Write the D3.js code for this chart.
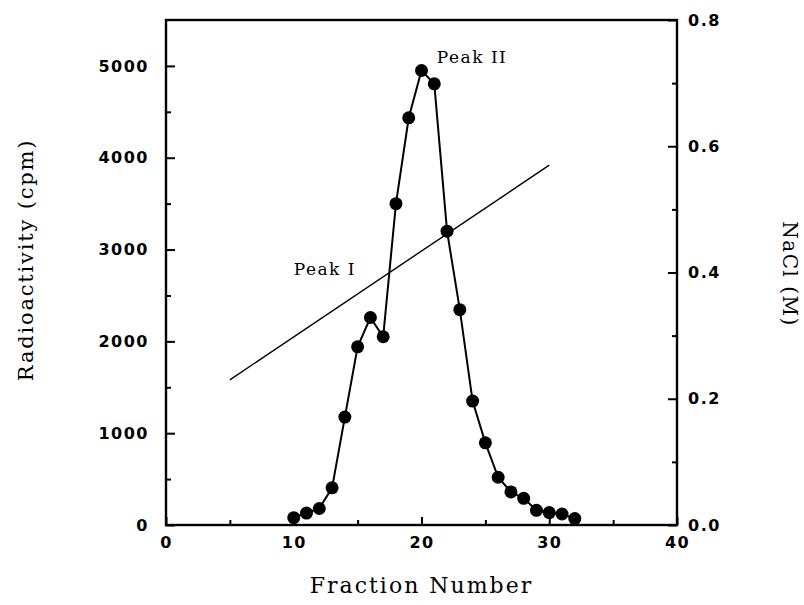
<!DOCTYPE html>
<html>
<head>
<meta charset="utf-8">
<script src="https://cdn.jsdelivr.net/npm/d3@7"></script>
<style>
body{margin:0;background:#fff;}
.tick text{font-family:"DejaVu Sans",sans-serif;font-size:16px;font-weight:bold;letter-spacing:1.5px;fill:#000;}
.axis path,.axis line{stroke:#000;}
.lbl{font-family:"DejaVu Serif",serif;fill:#000;}
</style>
</head>
<body>
<div id="chart"></div>
<script>
// fraction number vs radioactivity (cpm)
var fractions=[10,11,12,13,14,15,16,17,18,19,20,21,22,23,24,25,26,27,28,29,30,31,32];
var cpm=[80,130,180,405,1175,1940,2260,2050,3500,4435,4950,4805,3200,2345,1350,895,520,360,290,160,135,120,70];
// NaCl gradient (M)
var naclX=[5,30];
var naclY=[0.23,0.57];
var xTicks=[0,10,20,30,40];
var yTicks=[0,1000,2000,3000,4000,5000];
var y2Ticks=[0,0.2,0.4,0.6,0.8];

var margin={left:166,right:127,top:20,bottom:80};
var width=804-margin.left-margin.right;
var height=605-margin.top-margin.bottom;

var svg=d3.select('#chart')
    .append('svg')
    .attr('width',804)
    .attr('height',605)
    .append('g')
    .attr('transform','translate('+margin.left+','+margin.top+')');

var x=d3.scaleLinear().domain([0,40]).range([0,width]);
var y=d3.scaleLinear().domain([0,5500]).range([height,0]);
var y2=d3.scaleLinear().domain([0,0.8]).range([height,0]);

// minor ticks
svg.append('g').attr('class','axis')
    .call(d3.axisLeft(y).tickValues([500,1500,2500,3500,4500]).tickSize(-5).tickFormat(''));
svg.append('g').attr('class','axis')
    .attr('transform','translate('+width+',0)')
    .call(d3.axisRight(y2).tickValues([0.1,0.3,0.5,0.7]).tickSize(-5).tickFormat(''));
svg.append('g').attr('class','axis')
    .attr('transform','translate(0,'+height+')')
    .call(d3.axisBottom(x).tickValues([5,15,25,35]).tickSize(-5).tickFormat(''));

// major axes
svg.append('g').attr('class','axis')
    .call(d3.axisLeft(y).tickValues(yTicks).tickSize(-9).tickPadding(17).tickFormat(d3.format('d')));
svg.append('g').attr('class','axis')
    .attr('transform','translate('+width+',0)')
    .call(d3.axisRight(y2).tickValues(y2Ticks).tickSize(-9).tickPadding(11).tickFormat(d3.format('.1f')));
svg.append('g').attr('class','axis')
    .attr('transform','translate(0,'+height+')')
    .call(d3.axisBottom(x).tickValues(xTicks).tickSize(-8).tickPadding(12));
svg.selectAll('.axis .tick line').attr('stroke-width',2);
svg.selectAll('.axis .domain').remove();

// frame
svg.append('rect')
    .attr('x',0).attr('y',0)
    .attr('width',width).attr('height',height)
    .attr('fill','none').attr('stroke','#000').attr('stroke-width',2.4);

// NaCl line
var naclData=naclX.map(function(d,i){return {x:d,y:naclY[i]};});
svg.append('path')
    .datum(naclData)
    .attr('fill','none').attr('stroke','#000').attr('stroke-width',1.4)
    .attr('d',d3.line().x(function(d){return x(d.x);}).y(function(d){return y2(d.y);}));

// radioactivity
var data=fractions.map(function(d,i){return {f:d,v:cpm[i]};});
svg.append('path')
    .datum(data)
    .attr('fill','none').attr('stroke','#000').attr('stroke-width',2)
    .attr('d',d3.line().x(function(d){return x(d.f);}).y(function(d){return y(d.v);}));
svg.selectAll('.dot')
    .data(data)
    .enter()
    .append('circle')
    .attr('class','dot')
    .attr('cx',function(d){return x(d.f);})
    .attr('cy',function(d){return y(d.v);})
    .attr('r',6.5)
    .attr('fill','#000');

// peak labels
svg.append('text').attr('class','lbl')
    .attr('x',x(10)).attr('y',y(2720)).attr('font-size',17).attr('letter-spacing',1.5)
    .text('Peak I');
svg.append('text').attr('class','lbl')
    .attr('x',x(21.2)).attr('y',y(5030)).attr('font-size',17).attr('letter-spacing',1.5)
    .text('Peak II');

// axis titles
svg.append('text').attr('class','lbl')
    .attr('text-anchor','middle')
    .attr('font-size',21)
    .attr('letter-spacing',1.8)
    .attr('transform','translate('+(-133)+','+(260-margin.top)+') rotate(-90)')
    .text('Radioactivity (cpm)');
svg.append('text').attr('class','lbl')
    .attr('text-anchor','middle')
    .attr('font-size',20)
    .attr('letter-spacing',1.5)
    .attr('transform','translate('+(width+106)+','+(274-margin.top)+') rotate(90)')
    .text('NaCl (M)');
svg.append('text').attr('class','lbl')
    .attr('text-anchor','middle')
    .attr('font-size',22)
    .attr('letter-spacing',2)
    .attr('x',x(20)).attr('y',593-margin.top)
    .text('Fraction Number');
</script>
</body>
</html>
